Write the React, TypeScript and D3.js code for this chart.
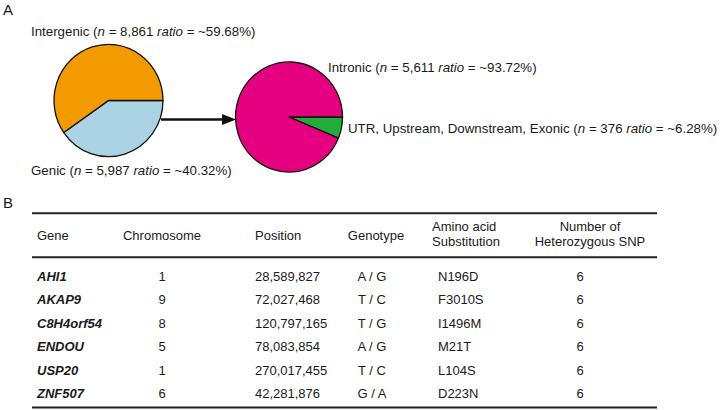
import React from "react";
import * as d3 from "d3";

const pie1Labels = ["Genic", "Intergenic"];
const pie1Counts = [5987, 8861];
const pie1Ratios = ["~40.32%", "~59.68%"];
const pie1Colors = ["#acd3e3", "#f39a00"];

const pie2Labels = ["UTR, Upstream, Downstream, Exonic", "Intronic"];
const pie2Counts = [376, 5611];
const pie2Ratios = ["~6.28%", "~93.72%"];
const pie2Colors = ["#22ac3c", "#e4007e"];

const headers = ["Gene", "Chromosome", "Position", "Genotype", "Amino acid|Substitution", "Number of|Heterozygous SNP"];
const genes = ["AHI1", "AKAP9", "C8H4orf54", "ENDOU", "USP20", "ZNF507"];
const chromosomes = ["1", "9", "8", "5", "1", "6"];
const positions = ["28,589,827", "72,027,468", "120,797,165", "78,083,854", "270,017,455", "42,281,876"];
const genotypes = ["A / G", "T / C", "T / G", "A / G", "T / C", "G / A"];
const substitutions = ["N196D", "F3010S", "I1496M", "M21T", "L104S", "D223N"];
const hetSNP = [6, 6, 6, 6, 6, 6];

const FONT = "'Liberation Sans', Arial, Helvetica, sans-serif";

function Pie({ cx, cy, r, values, colors }: { cx: number; cy: number; r: number; values: number[]; colors: string[] }) {
  const pie = d3.pie<number>().sort(null).startAngle(Math.PI / 2).endAngle(Math.PI / 2 + 2 * Math.PI);
  const arc = d3.arc<d3.PieArcDatum<number>>().innerRadius(0).outerRadius(r);
  const arcs = pie(values);
  return (
    <g transform={`translate(${cx},${cy}) scale(1,1.03)`}>
      {arcs.map((a, i) => (
        <path key={i} d={arc(a) || ""} fill={colors[i]} stroke="#111" strokeWidth={1.3} vectorEffect="non-scaling-stroke" />
      ))}
    </g>
  );
}

function Label({ x, y, name, n, ratio }: { x: number; y: number; name: string; n: number; ratio: string }) {
  return (
    <text x={x} y={y} fontSize={13.3} fontFamily={FONT} fill="#1a1a1a">
      {name} (<tspan fontStyle="italic">n</tspan> = {d3.format(",")(n)} <tspan fontStyle="italic">ratio</tspan> = {ratio})
    </text>
  );
}

export default function App() {
  const rowY = d3.scalePoint<number>().domain(d3.range(genes.length)).range([281, 398]);
  const colX = [37, 162, 255, 376, 432, 590];
  const lineL = 32, lineR = 657;
  return (
    <svg width={720} height={410} style={{ position: "absolute", left: 0, top: 0, background: "#fff" }} fontFamily={FONT}>
      <rect width={720} height={410} fill="#fff" />
      <text x={3} y={15} fontSize={15} fill="#1a1a1a">A</text>
      <text x={3} y={208} fontSize={15} fill="#1a1a1a">B</text>

      <Pie cx={108.5} cy={100.5} r={54.5} values={pie1Counts} colors={pie1Colors} />
      <Pie cx={289} cy={117} r={53.5} values={pie2Counts} colors={pie2Colors} />

      <line x1={161} y1={119.5} x2={224} y2={119.5} stroke="#111" strokeWidth={2.5} />
      <path d="M222,114 L236,119.5 L222,125 Z" fill="#111" />

      <Label x={31} y={36} name={pie1Labels[1]} n={pie1Counts[1]} ratio={pie1Ratios[1]} />
      <Label x={31} y={175} name={pie1Labels[0]} n={pie1Counts[0]} ratio={pie1Ratios[0]} />
      <Label x={328} y={72} name={pie2Labels[1]} n={pie2Counts[1]} ratio={pie2Ratios[1]} />
      <Label x={348} y={133} name={pie2Labels[0]} n={pie2Counts[0]} ratio={pie2Ratios[0]} />

      <line x1={lineL} x2={lineR} y1={213.3} y2={213.3} stroke="#222" strokeWidth={2} />
      <line x1={lineL} x2={lineR} y1={257.3} y2={257.3} stroke="#222" strokeWidth={2} />
      <line x1={lineL} x2={lineR} y1={407.5} y2={407.5} stroke="#222" strokeWidth={2} />

      {headers.map((h, i) => {
        const parts = h.split("|");
        const anchor = i === 0 || i === 2 || i === 4 ? "start" : "middle";
        if (parts.length === 1) {
          return (
            <text key={i} x={colX[i]} y={240} fontSize={13} fill="#1a1a1a" textAnchor={anchor}>{h}</text>
          );
        }
        return (
          <text key={i} x={colX[i]} y={230.5} fontSize={13} fill="#1a1a1a" textAnchor={anchor}>
            <tspan x={colX[i]} y={230.5}>{parts[0]}</tspan>
            <tspan x={colX[i]} y={246}>{parts[1]}</tspan>
          </text>
        );
      })}

      {genes.map((g, i) => {
        const y = rowY(i) as number;
        return (
          <g key={g} fontSize={13} fill="#1a1a1a">
            <text x={colX[0]} y={y} fontWeight="bold" fontStyle="italic">{g}</text>
            <text x={colX[1]} y={y} textAnchor="middle">{chromosomes[i]}</text>
            <text x={colX[2]} y={y}>{positions[i]}</text>
            <text x={372} y={y} textAnchor="middle">{genotypes[i]}</text>
            <text x={438} y={y}>{substitutions[i]}</text>
            <text x={580} y={y} textAnchor="middle">{hetSNP[i]}</text>
          </g>
        );
      })}
    </svg>
  );
}
